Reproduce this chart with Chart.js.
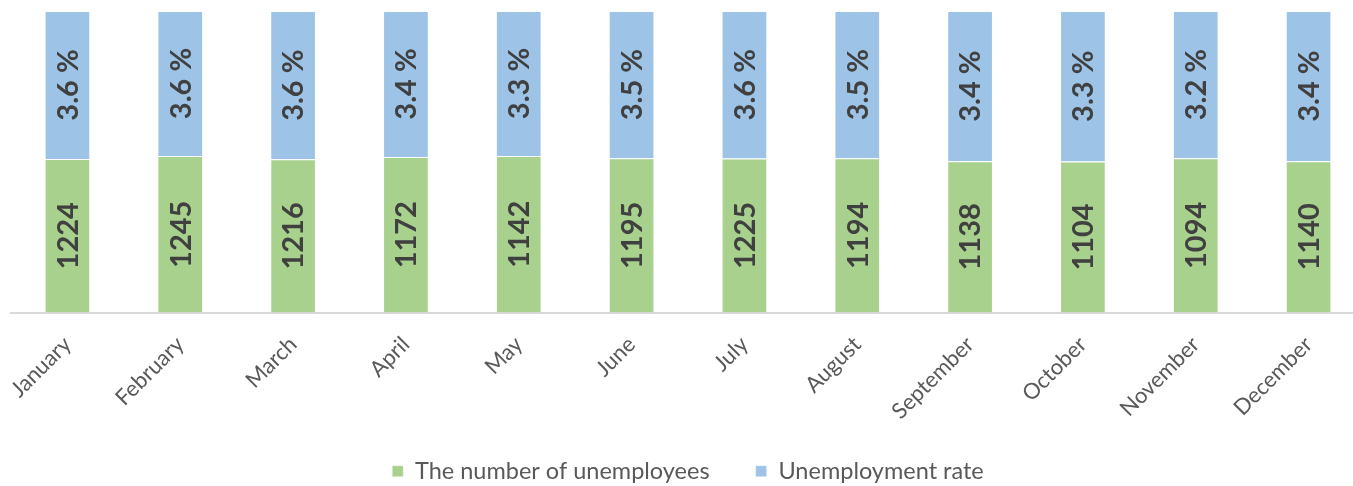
<!DOCTYPE html>
<html lang="en">
<head>
<meta charset="UTF-8">
<title>Unemployment by month</title>
<script src="https://cdn.jsdelivr.net/npm/chart.js@4/dist/chart.umd.min.js"></script>
<style>
  html, body { margin: 0; padding: 0; background: #fff; overflow: hidden; }
  #wrap { width: 1381px; height: 486px; }
</style>
</head>
<body>
<div id="wrap"><canvas id="chart" width="1381" height="486"></canvas></div>

<script>
const months = ['January','February','March','April','May','June','July','August','September','October','November','December'];
const unemployees = [1224, 1245, 1216, 1172, 1142, 1195, 1225, 1194, 1138, 1104, 1094, 1140];
const rates       = [3.6, 3.6, 3.6, 3.4, 3.3, 3.5, 3.6, 3.5, 3.4, 3.3, 3.2, 3.4];

// share of each column (100% stacked)
const greenShare = [50.9, 51.9, 50.8, 51.6, 51.9, 51.2, 51.1, 51.2, 50.2, 50.1, 51.2, 50.2];
const blueShare  = [49.1, 48.1, 49.2, 48.4, 48.1, 48.8, 48.9, 48.8, 49.8, 49.9, 48.8, 49.8];

const FONT = 'Lato, "Open Sans", sans-serif';

// value labels, rotated inside each segment
const barLabels = {
  id: 'barLabels',
  afterDatasetsDraw(chart) {
    const ctx = chart.ctx;
    ctx.save();
    ctx.font = 'bold 29px ' + FONT;
    ctx.fillStyle = '#404040';
    ctx.textAlign = 'center';
    ctx.textBaseline = 'middle';
    chart.data.datasets.forEach((ds, di) => {
      const meta = chart.getDatasetMeta(di);
      meta.data.forEach((bar, i) => {
        const txt = di === 0 ? String(unemployees[i]) : rates[i].toFixed(1) + ' %';
        const cy = (bar.y + bar.base) / 2;
        ctx.save();
        ctx.translate(bar.x, cy);
        ctx.rotate(-Math.PI / 2);
        ctx.fillText(txt, 0, 1);
        ctx.restore();
      });
    });
    ctx.restore();
  }
};

new Chart(document.getElementById('chart'), {
  type: 'bar',
  data: {
    labels: months,
    datasets: [
      { label: 'The number of unemployees', data: greenShare, backgroundColor: '#a9d18e',
        borderColor: 'rgba(255,255,255,0.4)', borderWidth: 1 },
      { label: 'Unemployment rate', data: blueShare, backgroundColor: '#9dc3e6',
        borderColor: 'rgba(255,255,255,0.4)', borderWidth: 1 }
    ]
  },
  options: {
    responsive: false,
    animation: false,
    barPercentage: 0.405,
    categoryPercentage: 1.0,
    layout: { padding: { left: 11, right: 16, top: 11, bottom: -7 } },
    plugins: {
      legend: {
        position: 'bottom',
        labels: {
          boxWidth: 11, boxHeight: 11, padding: 10,
          color: '#595959', font: { family: FONT, size: 23.5 },
          generateLabels(chart) {
            const items = Chart.defaults.plugins.legend.labels.generateLabels(chart);
            // wider gap after the first entry, like the original legend
            items[0].text += '      ';
            return items;
          }
        }
      },
      tooltip: { enabled: false }
    },
    scales: {
      x: {
        stacked: true,
        grid: { display: false },
        border: { display: true, color: '#d9d9d9', width: 2 },
        ticks: { color: '#595959', font: { family: FONT, size: 22 }, minRotation: 45, maxRotation: 45, padding: 11 },
        afterFit(scale) { scale.height = 137; }
      },
      y: {
        stacked: true, display: false, min: 0, max: 100
      }
    }
  },
  plugins: [barLabels]
});
</script>
</body>
</html>
